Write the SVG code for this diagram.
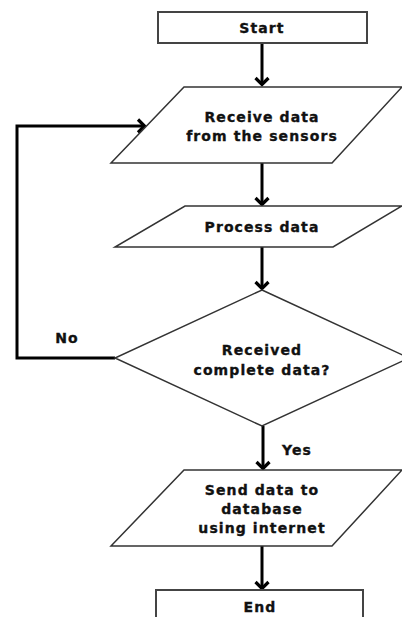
<svg xmlns="http://www.w3.org/2000/svg" width="402" height="617" viewBox="0 0 402 617">
<style>
.shape{fill:#fff;stroke:#333;stroke-width:1.5}
.box{fill:#fff;stroke:#444;stroke-width:2}
.lbl{font-family:"DejaVu Sans",sans-serif;font-weight:bold;font-size:14px;fill:#111;stroke:#111;stroke-width:0.35;text-anchor:middle;letter-spacing:1.1px}
.conn{fill:none;stroke:#000;stroke-width:3}
</style>
<defs>
<marker id="ah" markerUnits="userSpaceOnUse" viewBox="-9 -9 18 18" markerWidth="18" markerHeight="18" refX="0" refY="0" orient="auto">
<path d="M-7,-6.5 L-0.5,0 L-7,6.5" fill="none" stroke="#000" stroke-width="3.2"/>
</marker>
</defs>
<rect width="402" height="617" fill="#fff"/>
<g id="connectors">
<line class="conn" x1="262" y1="43" x2="262" y2="85" marker-end="url(#ah)"/>
<line class="conn" x1="262" y1="163" x2="262" y2="205" marker-end="url(#ah)"/>
<line class="conn" x1="262" y1="247" x2="262" y2="289" marker-end="url(#ah)"/>
<polyline class="conn" points="115,358 17,358 17,126 145,126" marker-end="url(#ah)"/>
<line class="conn" x1="263" y1="426" x2="263" y2="469" marker-end="url(#ah)"/>
<line class="conn" x1="262" y1="546" x2="262" y2="589" marker-end="url(#ah)"/>
<text class="lbl" x="67" y="343">No</text>
<text class="lbl" x="297" y="455">Yes</text>
</g>
<g id="start">
<rect class="box" x="158" y="12" width="209" height="31"/>
<text class="lbl" x="262" y="33">Start</text>
</g>
<g id="receive">
<polygon class="shape" points="184,87 402,87 332,163 111,163"/>
<text class="lbl" x="262" y="122">Receive data</text>
<text class="lbl" x="262" y="141">from the sensors</text>
</g>
<g id="process">
<polygon class="shape" points="185,206 402,206 333,247 115,247"/>
<text class="lbl" x="262" y="232">Process data</text>
</g>
<g id="decision">
<polygon class="shape" points="262,290 409,358 262,426 115,358"/>
<text class="lbl" x="262" y="355">Received</text>
<text class="lbl" x="262" y="375">complete data?</text>
</g>
<g id="send">
<polygon class="shape" points="184,470 402,470 332,546 111,546"/>
<text class="lbl" x="262" y="495">Send data to</text>
<text class="lbl" x="262" y="514">database</text>
<text class="lbl" x="262" y="533">using internet</text>
</g>
<g id="end">
<rect class="box" x="156" y="590" width="207" height="40"/>
<text class="lbl" x="260" y="612">End</text>
</g>
</svg>
